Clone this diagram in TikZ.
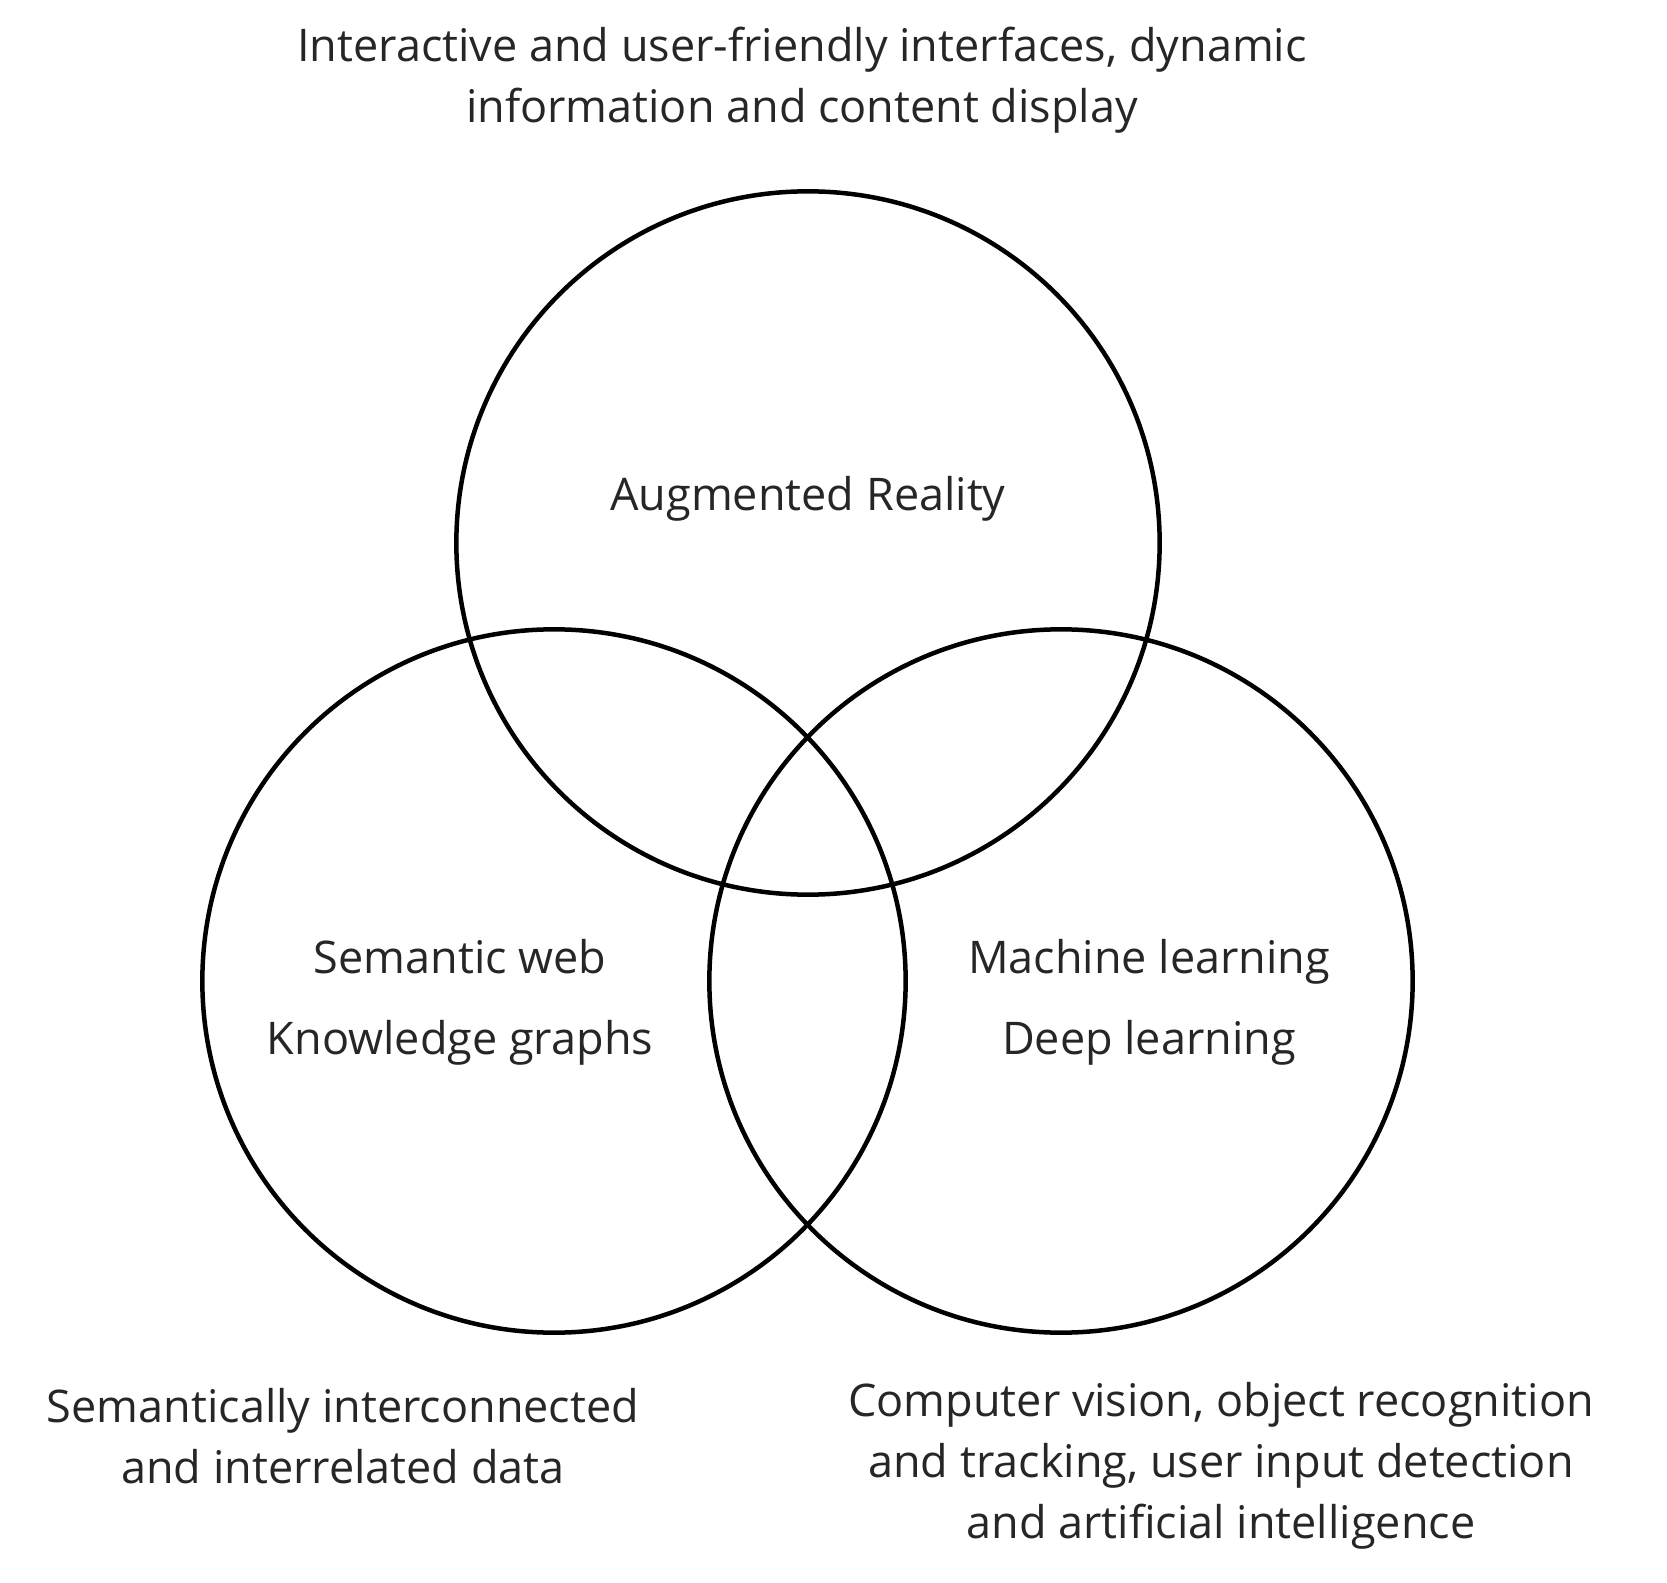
\documentclass[tikz,border=0pt]{standalone}
\usepackage{fontspec}
\setmainfont{Open Sans}
\begin{document}
\begin{tikzpicture}[x=0.3pt,y=-0.3pt,
  ring/.style={circle,draw=black,line width=1.35pt,minimum size=211pt,inner sep=0pt},
  lbl/.style={font=\fontsize{13.5pt}{18.3pt}\selectfont,text=black!85,align=center,inner sep=0pt}]
\useasboundingbox (0,0) rectangle (1667,1583);
\node[ring] (ar) at (808,543) {};
\node[ring] (sw) at (554,981) {};
\node[ring] (ml) at (1061,981) {};
\node[lbl] (top) at (802,80) {Interactive and user-friendly interfaces, dynamic\\information and content display};
\node[lbl] (arl) at (808,499) {Augmented Reality};
\node[lbl] (swl) at (460,1002) {Semantic web\\[6pt]Knowledge graphs};
\node[lbl] (mll) at (1149,1002) {Machine learning\\[6pt]Deep learning};
\node[lbl] (bl) at (343,1436) {Semantically interconnected\\and interrelated data};
\node[lbl] (br) at (1221,1466) {Computer vision, object recognition\\and tracking, user input detection\\and artificial intelligence};
\end{tikzpicture}
\end{document}
